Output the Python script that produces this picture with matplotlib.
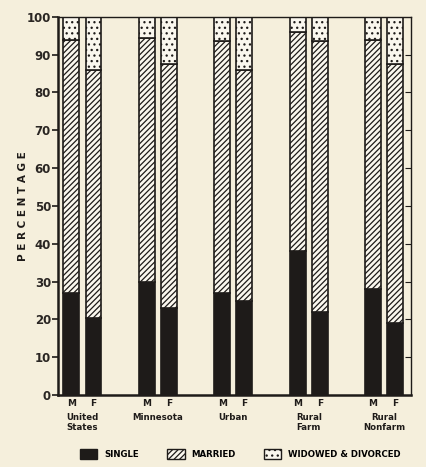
import matplotlib
matplotlib.use("Agg")
import matplotlib.pyplot as plt
import matplotlib.transforms as mtransforms
from matplotlib.patches import Patch
import numpy as np

# Group names and sexes
groups = ["United\nStates", "Minnesota", "Urban", "Rural\nFarm", "Rural\nNonfarm"]
sexes = ["M", "F"]

# Percentages, order: M, F for each group
single_m = [27, 30, 27, 38, 28]
single_f = [20.5, 23, 25, 22, 19]
married_m = [67, 64.5, 66.5, 58, 66]
married_f = [65.5, 64.5, 61, 71.5, 68.5]
widowed_m = [6, 5.5, 6.5, 4, 6]
widowed_f = [14, 12.5, 14, 6.5, 12.5]

bg = "#f5efdc"
ink = "#1e1b19"

plt.rcParams["hatch.linewidth"] = 0.9
plt.rcParams["hatch.color"] = ink
plt.rcParams["font.family"] = "DejaVu Sans"

fig = plt.figure(figsize=(4.26, 4.67), dpi=100, facecolor=bg)
ax = fig.add_axes([0.136, 0.154, 0.829, 0.810])
ax.set_facecolor(bg)

x = np.arange(len(groups))
off = 0.147
w = 0.21

for pos, s, m, wd in [(x - off, single_m, married_m, widowed_m),
                      (x + off, single_f, married_f, widowed_f)]:
    s = np.array(s)
    m = np.array(m)
    wd = np.array(wd)
    ax.bar(pos, s, w, color=ink, edgecolor=ink, linewidth=1.2)
    ax.bar(pos, m, w, bottom=s, color="#faf7ee", edgecolor=ink,
           hatch="//////", linewidth=1.2)
    ax.bar(pos, wd, w, bottom=s + m, color="#faf7ee", edgecolor=ink,
           hatch="...", linewidth=1.2)

ax.set_xlim(-0.325, 4.357)
ax.set_ylim(0, 100)
ax.set_yticks(np.arange(0, 101, 10))
ax.set_yticklabels([str(v) for v in range(0, 101, 10)], fontsize=8.5,
                   fontweight="bold", color="#2a2623")
ax.tick_params(axis="y", direction="out", length=4, width=1.2, color=ink, pad=1)

# M / F labels under each bar
ticks = np.sort(np.concatenate([x - off, x + off]))
ax.set_xticks(ticks)
ax.set_xticklabels(sexes * len(groups), fontsize=6.5, fontweight="bold",
                   color=ink)
ax.tick_params(axis="x", length=0, pad=3)

trans = mtransforms.blended_transform_factory(ax.transData, ax.transAxes)
for i, g in enumerate(groups):
    ax.text(x[i], -0.047, g, transform=trans, ha="center", va="top",
            fontsize=6.2, fontweight="bold", color=ink, linespacing=1.2)

ax.set_ylabel("P E R C E N T A G E", fontsize=7.5, fontweight="bold",
              color=ink, labelpad=-1)

for side in ["left", "bottom"]:
    ax.spines[side].set_linewidth(1.8)
    ax.spines[side].set_color(ink)
for side in ["top", "right"]:
    ax.spines[side].set_linewidth(1.0)
    ax.spines[side].set_color(ink)

# inward ticks on the right edge
ax2 = ax.twinx()
ax2.set_ylim(0, 100)
ax2.set_yticks(np.arange(10, 100, 10))
ax2.tick_params(axis="y", direction="in", length=4, width=0.8, color=ink,
                labelright=False)
ax2.spines[:].set_visible(False)

handles = [
    Patch(facecolor=ink, edgecolor=ink, label="SINGLE"),
    Patch(facecolor="#faf7ee", edgecolor=ink, hatch="//////", label="MARRIED"),
    Patch(facecolor="#faf7ee", edgecolor=ink, hatch="...",
          label="WIDOWED & DIVORCED"),
]
fig.legend(handles=handles, loc="lower left", bbox_to_anchor=(0.17, 0.0),
           ncol=3, frameon=False, handlelength=2.0, handleheight=1.5,
           columnspacing=3.3, handletextpad=0.8,
           prop={"size": 6.2, "weight": "bold"})

fig.savefig("out.png", dpi=100, facecolor=bg)
